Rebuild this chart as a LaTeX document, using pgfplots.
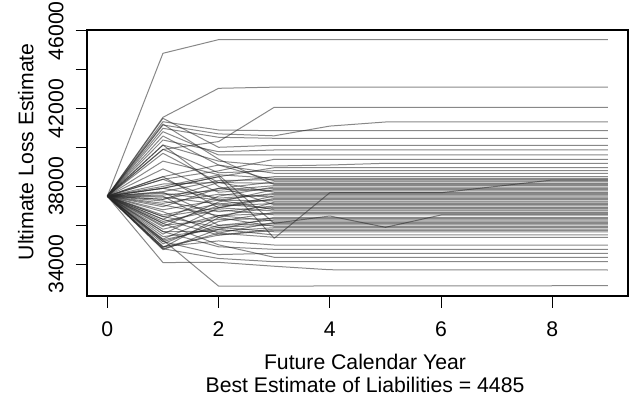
\documentclass[border=0pt]{standalone}
\usepackage{fontspec}
\setmainfont{Liberation Sans}
\usepackage{pgfplots}
\pgfplotsset{compat=1.18}
\begin{document}
\fontsize{10.6}{12}\selectfont
\begin{tikzpicture}[g/.style={draw=black!85, draw opacity=0.55, line width=0.5pt, line join=round}]
\useasboundingbox (-43.65pt,-52pt) rectangle (270.85pt,148pt);
\begin{axis}[
  scale only axis, width=270.35pt, height=133pt,
  at={(0pt,0pt)}, anchor=south west,
  xmin=-0.36, xmax=9.36, ymin=32372, ymax=46036,
  clip mode=individual,
  axis line style={line width=0.9pt},
  tick align=outside, xtick pos=bottom, ytick pos=left,
  major tick length=5.8pt,
  tick style={black, line width=0.5pt},
  xtick={0,2,4,6,8}, xticklabels={0,2,4,6,8},
  ytick={34000,36000,38000,40000,42000,44000,46000},
  yticklabels={34000,,38000,,42000,,46000},
  xticklabel style={anchor=base, yshift=-14.55pt},
  yticklabel style={rotate=90, anchor=base, yshift=6.2pt},
  scaled y ticks=false,
  xlabel={Future Calendar Year},
  xlabel style={at={(axis description cs:0.5136,-0.2782)}, anchor=base},
  ylabel={Ultimate Loss Estimate},
  ylabel style={at={(axis description cs:-0.0999,0.5425)}, anchor=base},
]
% upper group
\addplot[g] coordinates {(0,37500)(1,44839)(2,45540)(9,45540)};
\addplot[g] coordinates {(0,37500)(1,41551)(2,43040)(3,43100)(9,43100)};
\addplot[g] coordinates {(0,37500)(1,39900)(2,40303)(3,42065)(9,42065)};
\addplot[g] coordinates {(0,37500)(1,41156)(2,40700)(3,40600)(4,41100)(5,41310)(9,41310)};
\addplot[g] coordinates {(0,37500)(1,41325)(2,40898)(3,40863)(9,40863)};
\addplot[g] coordinates {(0,37500)(1,40985)(2,40524)(3,40473)(9,40473)};
\addplot[g] coordinates {(0,37500)(1,41500)(2,40010)(3,40113)(9,40113)};
\addplot[g] coordinates {(0,37500)(1,40385)(2,39784)(3,39872)(9,39872)};
\addplot[g] coordinates {(0,37500)(1,40812)(2,39615)(9,39615)};
\addplot[g] coordinates {(0,37500)(1,38366)(2,38800)(3,39393)(9,39393)};
\addplot[g] coordinates {(0,37500)(1,40128)(2,39300)(3,39050)(4,39100)(5,39188)(9,39188)};
\addplot[g] coordinates {(0,37500)(1,37904)(2,38500)(3,38962)(9,38962)};
\addplot[g] coordinates {(0,37500)(1,39907)(2,38700)(3,38808)(9,38808)};
\addplot[g] coordinates {(0,37500)(1,38500)(2,39100)(3,38675)(9,38675)};
\addplot[g] coordinates {(0,37500)(1,37338)(2,38200)(3,38500)(9,38500)};
% special late-moving lines
\addplot[g] coordinates {(0,37500)(1,38000)(2,38587)(3,36106)(4,36481)(5,35900)(6,36533)(9,36533)};
\addplot[g] coordinates {(0,37500)(1,37904)(2,38500)(3,35335)(4,37678)(6,37678)(8,38330)(9,38330)};
% band
\addplot[g] coordinates {(0,37500)(1,39300)(2,38600)(3,38420)(9,38420)};
\addplot[g] coordinates {(0,37500)(1,37729)(2,38300)(3,38350)(9,38350)};
\addplot[g] coordinates {(0,37500)(1,40590)(2,39100)(3,38290)(9,38290)};
\addplot[g] coordinates {(0,37500)(1,36959)(2,37900)(3,38230)(9,38230)};
\addplot[g] coordinates {(0,37500)(1,38124)(2,38200)(3,38160)(9,38160)};
\addplot[g] coordinates {(0,37500)(1,41200)(2,39400)(3,38100)(9,38100)};
\addplot[g] coordinates {(0,37500)(1,37560)(2,37800)(3,38040)(9,38040)};
\addplot[g] coordinates {(0,37500)(1,36312)(2,37500)(3,37970)(9,37970)};
\addplot[g] coordinates {(0,37500)(1,38900)(2,37700)(3,37900)(9,37900)};
\addplot[g] coordinates {(0,37500)(1,35935)(2,37200)(3,37840)(9,37840)};
\addplot[g] coordinates {(0,37500)(1,37338)(2,37900)(3,37770)(9,37770)};
\addplot[g] coordinates {(0,37500)(1,39702)(2,38200)(3,37700)(9,37700)};
\addplot[g] coordinates {(0,37500)(1,36800)(2,37300)(3,37640)(9,37640)};
\addplot[g] coordinates {(0,37500)(1,37904)(2,37400)(3,37580)(9,37580)};
\addplot[g] coordinates {(0,37500)(1,35550)(2,36900)(3,37510)(9,37510)};
\addplot[g] coordinates {(0,37500)(1,37133)(2,37600)(3,37450)(9,37450)};
\addplot[g] coordinates {(0,37500)(1,38500)(2,36900)(3,37380)(9,37380)};
\addplot[g] coordinates {(0,37500)(1,36533)(2,37100)(3,37320)(9,37320)};
\addplot[g] coordinates {(0,37500)(1,37650)(2,37300)(3,37250)(9,37250)};
\addplot[g] coordinates {(0,37500)(1,34850)(2,36400)(3,37190)(9,37190)};
\addplot[g] coordinates {(0,37500)(1,36106)(2,37000)(3,37120)(9,37120)};
\addplot[g] coordinates {(0,37500)(1,40128)(2,38000)(3,37060)(9,37060)};
\addplot[g] coordinates {(0,37500)(1,37250)(2,36700)(3,37000)(9,37000)};
\addplot[g] coordinates {(0,37500)(1,35300)(2,36500)(3,36930)(9,36930)};
\addplot[g] coordinates {(0,37500)(1,37450)(2,37100)(3,36870)(9,36870)};
\addplot[g] coordinates {(0,37500)(1,38366)(2,37300)(3,36800)(9,36800)};
\addplot[g] coordinates {(0,37500)(1,36450)(2,36900)(3,36740)(9,36740)};
\addplot[g] coordinates {(0,37500)(1,35050)(2,36200)(3,36670)(9,36670)};
\addplot[g] coordinates {(0,37500)(1,37050)(2,36500)(3,36610)(9,36610)};
\addplot[g] coordinates {(0,37500)(1,36200)(2,36800)(3,36540)(9,36540)};
\addplot[g] coordinates {(0,37500)(1,34750)(2,35800)(3,36410)(9,36410)};
\addplot[g] coordinates {(0,37500)(1,36000)(2,36300)(3,36350)(9,36350)};
\addplot[g] coordinates {(0,37500)(1,37500)(2,36000)(3,36280)(9,36280)};
\addplot[g] coordinates {(0,37500)(1,35800)(2,36500)(3,36220)(9,36220)};
\addplot[g] coordinates {(0,37500)(1,34800)(2,35600)(3,36150)(9,36150)};
\addplot[g] coordinates {(0,37500)(1,35164)(2,36000)(3,36090)(9,36090)};
\addplot[g] coordinates {(0,37500)(1,36450)(2,35900)(3,36020)(9,36020)};
\addplot[g] coordinates {(0,37500)(1,37700)(2,36400)(3,35950)(9,35950)};
\addplot[g] coordinates {(0,37500)(1,35678)(2,35700)(3,35880)(9,35880)};
\addplot[g] coordinates {(0,37500)(1,34907)(2,35500)(3,35810)(9,35810)};
\addplot[g] coordinates {(0,37500)(1,36312)(2,35500)(3,35740)(9,35740)};
\addplot[g] coordinates {(0,37500)(1,35250)(2,35900)(3,35670)(9,35670)};
% lower group
\addplot[g] coordinates {(0,37500)(1,35421)(2,35800)(3,35505)(9,35505)};
\addplot[g] coordinates {(0,37500)(1,36702)(2,35600)(3,35387)(9,35387)};
\addplot[g] coordinates {(0,37500)(1,34907)(2,35200)(3,34991)(9,34991)};
\addplot[g] coordinates {(0,37500)(1,35678)(2,34900)(3,34770)(9,34770)};
\addplot[g] coordinates {(0,37500)(1,35164)(2,34500)(3,34564)(9,34564)};
\addplot[g] coordinates {(0,37500)(1,36106)(2,35000)(3,34359)(9,34359)};
\addplot[g] coordinates {(0,37500)(1,34800)(2,34300)(3,34133)(9,34133)};
\addplot[g] coordinates {(0,37500)(1,34090)(2,34100)(3,33900)(4,33720)(9,33707)};
\addplot[g] coordinates {(0,37500)(1,35250)(2,32880)(9,32901)};
\node[anchor=base] at (rel axis cs:0.5136,-0.3647) {Best Estimate of Liabilities = 4485};
\end{axis}
\end{tikzpicture}
\end{document}
